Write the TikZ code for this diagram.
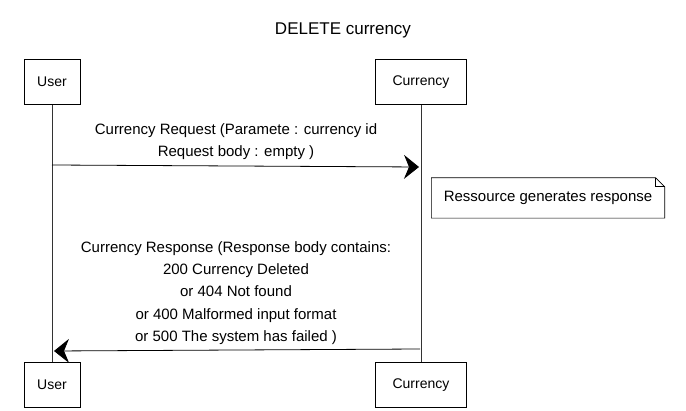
\documentclass[tikz,border=0pt]{standalone}
\usepackage{fontspec}
\setmainfont{Liberation Sans}
\usetikzlibrary{arrows.meta,positioning,calc}
\tikzset{
  actor/.style={draw=black, semithick, minimum height=45pt, inner sep=3pt, font=\fontsize{14}{16}\selectfont},
  life/.style={draw=black!80, semithick},
  msg/.style={-{Stealth[length=15pt,width=24pt,inset=5pt]}, thick, black},
  msgtext/.style={font=\fontsize{15}{22.3}\selectfont, align=center},
  notetext/.style={font=\fontsize{15}{17}\selectfont, minimum width=233pt, minimum height=40pt, inner sep=2pt},
  notebox/.style={draw=black, semithick}
}

\begin{document}
\begin{tikzpicture}[x=1pt,y=-1pt]
  \useasboundingbox (0,0) rectangle (686,411);
  \node[font=\fontsize{17}{19}\selectfont] (title) at (343,30) {DELETE currency};
  % participants
  \node[actor, minimum width=56pt] (userTop) at (52,82) {User};
  \node[actor, minimum width=91pt] (curTop) at (421,82) {Currency};
  \node[actor, minimum width=56pt] (userBot) at (52,385) {User};
  \node[actor, minimum width=91pt] (curBot) at (421,385) {Currency};
  \draw[life] (userTop) -- (userBot);
  \draw[life] (curTop) -- (curBot);
  % request
  \coordinate (reqS) at (52,165);
  \coordinate (reqE) at (419,167);
  \draw[msg] (reqS) -- (reqE);
  \node[msgtext, anchor=south] (reqLbl) at (236,163) {Currency Request (Paramete : currency id\\Request body : empty )};
  % note
  \node[notetext] (note) at (548,198) {Ressource generates response};
  \draw[notebox] (note.north west) -- ($(note.north east)+(-9,0)$) -- ($(note.north east)+(0,9)$)
    -- (note.south east) -- (note.south west) -- cycle;
  \draw[semithick] ($(note.north east)+(-9,0)$) -- ($(note.north east)+(-9,9)$) -- ($(note.north east)+(0,9)$);
  % response
  \coordinate (resS) at (420,349);
  \coordinate (resE) at (54,351);
  \draw[msg] (resS) -- (resE);
  \node[msgtext, anchor=south] (resLbl) at (236,348) {Currency Response (Response body contains:\\200 Currency Deleted\\or 404 Not found\\or 400 Malformed input format\\or 500 The system has failed )};
\end{tikzpicture}
\end{document}
